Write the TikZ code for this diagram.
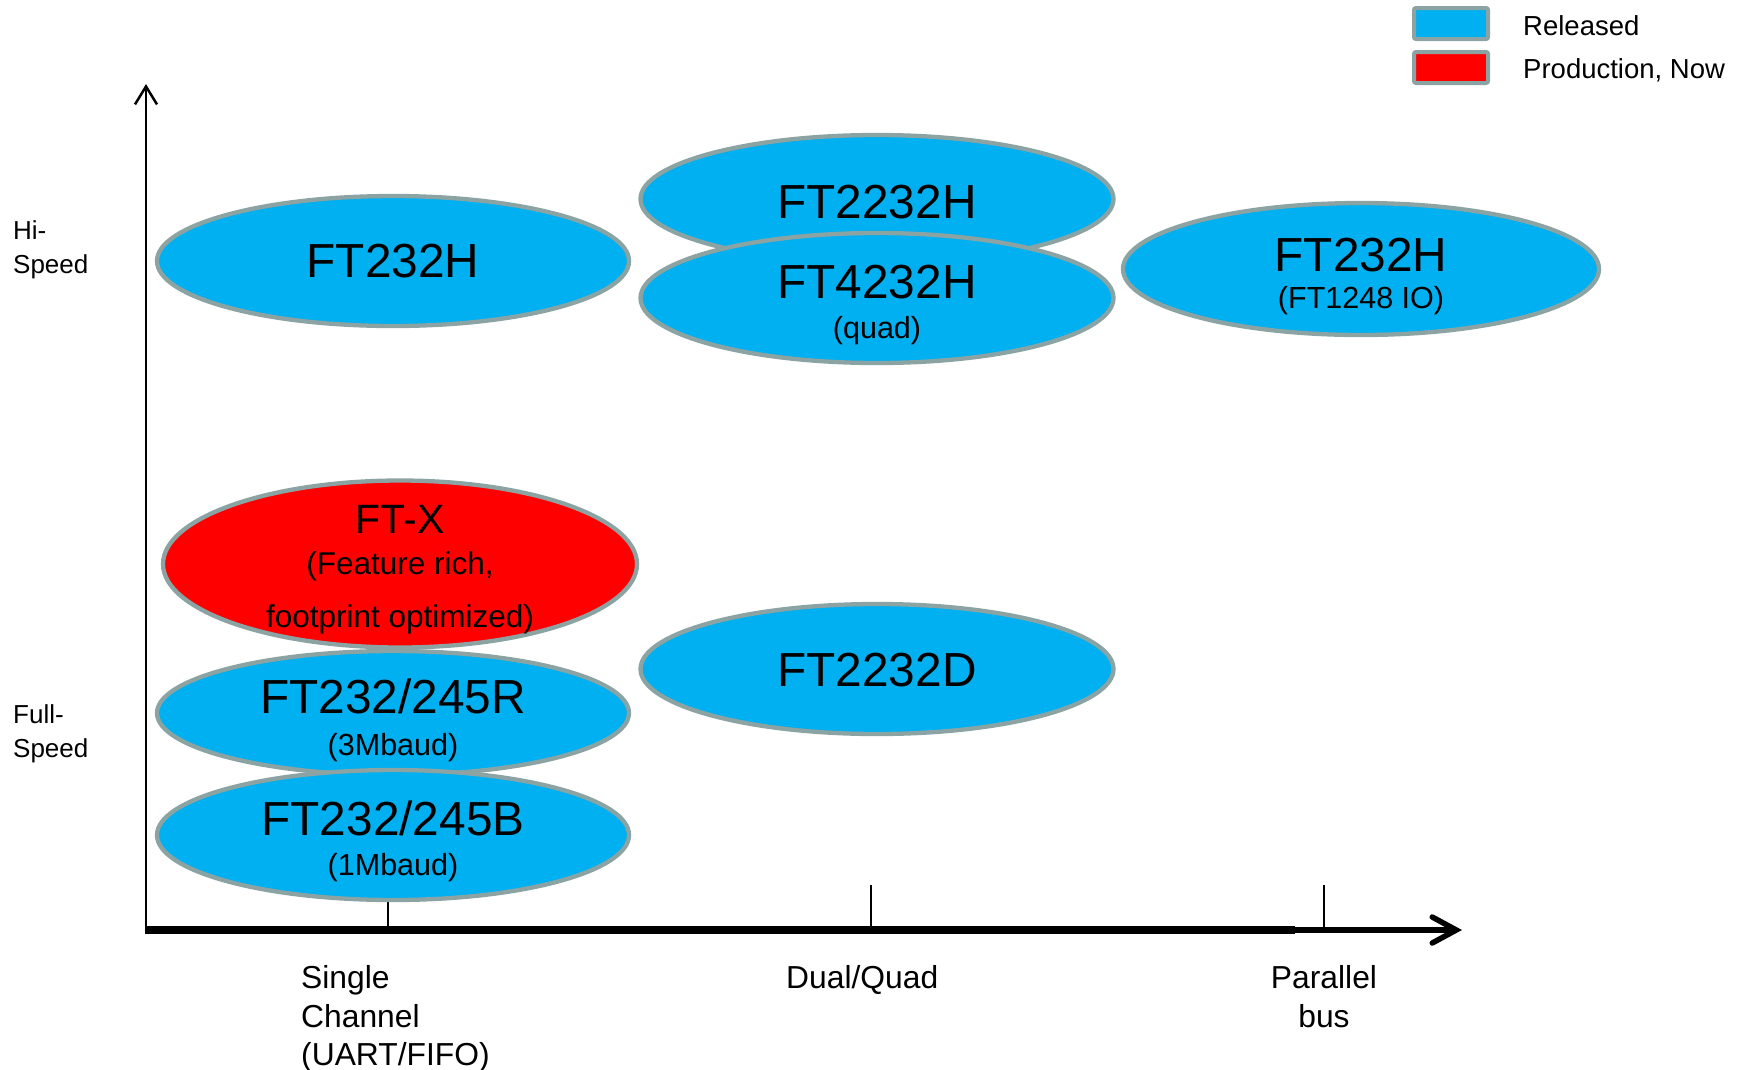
\documentclass[tikz,border=0pt]{standalone}
\usepackage{fontspec}
\setmainfont{Liberation Sans}
\usetikzlibrary{shapes.geometric,arrows.meta}
\definecolor{relblue}{HTML}{00B0F0}
\definecolor{prodred}{HTML}{FF0000}
\definecolor{rim}{RGB}{139,163,163}
\tikzset{
  chip/.style={ellipse, draw=rim, line width=4.3pt, inner sep=0pt, outer sep=0pt},
  rel/.style={chip, fill=relblue},
  prod/.style={chip, fill=prodred},
  big/.style={anchor=base, inner sep=0pt, font=\fontsize{47.8}{50}\selectfont},
  mid/.style={anchor=base, inner sep=0pt, font=\fontsize{41}{44}\selectfont},
  small/.style={anchor=base, inner sep=0pt, font=\fontsize{30.5}{32}\selectfont},
  axlab/.style={anchor=base west, inner sep=0pt, font=\fontsize{31.8}{32}\selectfont},
  axlabc/.style={anchor=base, inner sep=0pt, font=\fontsize{31.8}{32}\selectfont},
  ylab/.style={anchor=base west, inner sep=0pt, font=\fontsize{26}{28}\selectfont},
  legbox/.style={rectangle, draw=rim, line width=4pt, rounded corners=2pt, minimum width=74pt, minimum height=31pt, inner sep=0pt, outer sep=0pt},
  legtext/.style={anchor=base west, inner sep=0pt, font=\fontsize{27.5}{30}\selectfont},
  tick/.style={line width=2.5pt},
}
\begin{document}
\begin{tikzpicture}[x=1pt,y=-1pt]
\useasboundingbox (0,0) rectangle (1750,1069);

% axes
\coordinate (O) at (146,930);
\coordinate (O2) at (144.75,930);
\coordinate (Ytop) at (146,84);
\coordinate (Xmid) at (1295,930);
\coordinate (Xend) at (1462,930);
\coordinate (T1a) at (388,930); \coordinate (T1b) at (388,885);
\coordinate (T2a) at (871,930); \coordinate (T2b) at (871,885);
\coordinate (T3a) at (1324,930); \coordinate (T3b) at (1324,885);
\draw[tick] (T1a) -- (T1b);
\draw[tick] (T2a) -- (T2b);
\draw[tick] (T3a) -- (T3b);
\draw[line width=2.5pt, -{Straight Barb[length=18pt,width=22pt]}] (O) -- (Ytop);
\draw[line width=8pt] (O2) -- (Xmid);
\draw[line width=5.5pt, -{Straight Barb[length=24pt,width=26pt,line cap=round]}] (Xmid) -- (Xend);

% ellipses
\node[rel, minimum width=473pt, minimum height=128pt] (e2) at (877,199) {};
\node[rel, minimum width=473pt, minimum height=130pt] (e3) at (877,298) {};
\node[rel, minimum width=472pt, minimum height=130pt] (e1) at (393,261) {};
\node[rel, minimum width=476pt, minimum height=132pt] (e4) at (1361,269) {};
\node[rel, minimum width=473pt, minimum height=130pt] (e7) at (877,669) {};
\node[rel, minimum width=472pt, minimum height=124pt] (e6) at (393,713) {};
\node[rel, minimum width=472pt, minimum height=130pt] (e8) at (393,835) {};
\node[prod, minimum width=474pt, minimum height=167pt] (e5) at (400,564) {};

% ellipse texts
\node[big] (t1) at (393,277) {FT232H};
\node[big] (t2) at (877,218) {FT2232H};
\node[big] (t3) at (877,298) {FT4232H};
\node[small] (t3s) at (877,338) {(quad)};
\node[big] (t4) at (1361,271) {FT232H};
\node[small] (t4s) at (1361,308) {(FT1248 IO)};
\node[mid] (t5) at (400,533) {FT-X};
\node[small, font=\fontsize{31.5}{33}\selectfont] (t5a) at (400,574) {(Feature rich,};
\node[small, font=\fontsize{31.5}{33}\selectfont] (t5b) at (400,627) {footprint optimized)};
\node[big] (t6) at (393,713) {FT232/245R};
\node[small] (t6s) at (393,755) {(3Mbaud)};
\node[big] (t7) at (877,686) {FT2232D};
\node[big] (t8) at (393,835) {FT232/245B};
\node[small] (t8s) at (393,875) {(1Mbaud)};

% axis labels
\node[ylab] (hi1) at (13,239) {Hi-};
\node[ylab] (hi2) at (13,273) {Speed};
\node[ylab] (fu1) at (13,723) {Full-};
\node[ylab] (fu2) at (13,757) {Speed};
\node[axlab] (s1) at (301,988) {Single};
\node[axlab] (s2) at (301,1027) {Channel};
\node[axlab] (s3) at (301,1065) {(UART/FIFO)};
\node[axlab] (dq) at (786,988) {Dual/Quad};
\node[axlabc] (p1) at (1324,988) {Parallel};
\node[axlabc] (p2) at (1324,1027) {bus};

% legend
\node[legbox, fill=relblue] (k1) at (1451,23.5) {};
\node[legbox, fill=prodred] (k2) at (1451,67.5) {};
\node[legtext] (l1) at (1523,35) {Released};
\node[legtext] (l2) at (1523,78) {Production, Now};
\end{tikzpicture}
\end{document}
